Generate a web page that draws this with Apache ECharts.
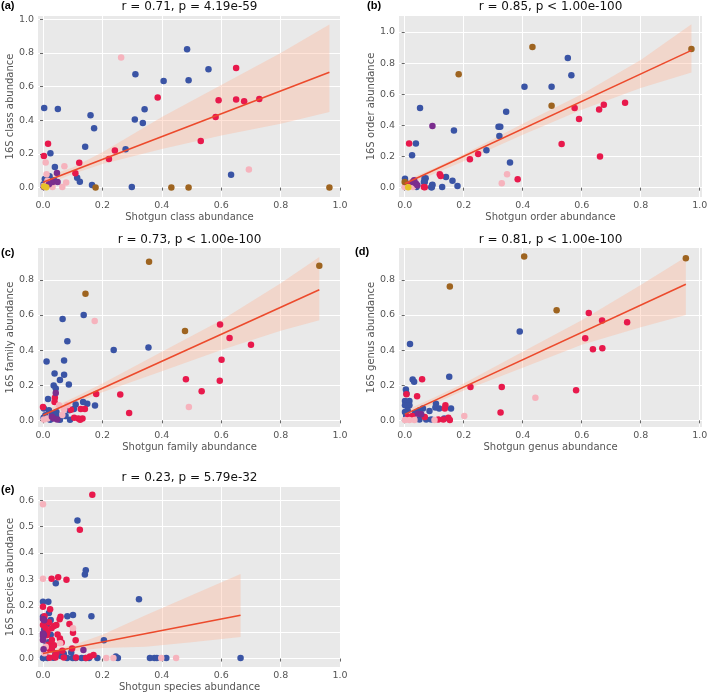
<!DOCTYPE html>
<html>
<head>
<meta charset="utf-8">
<script src="https://cdn.jsdelivr.net/npm/echarts@6/dist/echarts.min.js"></script>
<style>html,body{margin:0;padding:0;background:#fff}#c{width:709px;height:694px}</style>
</head>
<body>
<div id="c"></div>
<script>
// ---------- Panel (a): class ----------
const A_title = 'r = 0.71, p = 4.19e-59';
const A_xname = 'Shotgun class abundance';
const A_yname = '16S class abundance';
const A_blue = [[0.485,0.822],[0.557,0.703],[0.311,0.673],[0.406,0.634],[0.490,0.638],[0.004,0.473],[0.050,0.467],[0.342,0.465],[0.160,0.430],[0.172,0.352],[0.309,0.404],[0.336,0.384],[0.142,0.242],[0.278,0.228],[0.025,0.204],[0.040,0.123],[0.633,0.077],[0.115,0.059],[0.022,0.067],[0.124,0.034],[0.165,0.016],[0.299,0.004],[0.006,0.051],[0.020,0.047],[0.014,0.030],[0.028,0.040],[0.037,0.044],[0.002,0.020],[0.010,0.012]];
const A_red = [[0.650,0.711],[0.386,0.535],[0.591,0.519],[0.650,0.523],[0.677,0.513],[0.728,0.527],[0.581,0.420],[0.531,0.277],[0.017,0.261],[0.003,0.188],[0.242,0.220],[0.222,0.170],[0.122,0.147],[0.109,0.085],[0.022,0.033],[0.030,0.025]];
const A_pink = [[0.263,0.774],[0.693,0.107],[0.009,0.149],[0.072,0.127],[0.012,0.079],[0.078,0.030],[0.065,0.004],[0.032,0.004],[0.015,0.040],[0.002,0.010]];
const A_purple = [[0.047,0.087],[0.032,0.033],[0.049,0.033],[0.003,0.004],[0.020,0.020]];
const A_brown = [[0.177,0.0],[0.432,0.0],[0.490,0.0],[0.964,0.0]];
const A_yellow = [[0.011,0.002],[0.004,0.006]];
const A_fit = [[0,0.032],[0.964,0.686]];
const A_bandX = [0,0.1,0.2,0.4,0.6,0.8,0.964];
const A_bandLo = [0.01,0.08,0.14,0.23,0.31,0.38,0.45];
const A_bandHi = [0.06,0.12,0.21,0.42,0.61,0.80,0.97];
const A_xticks = [0,0.2,0.4,0.6,0.8,1.0];
const A_yticks = [0,0.2,0.4,0.6,0.8,1.0];

// ---------- Panel (b): order ----------
const B_title = 'r = 0.85, p < 1.00e-100';
const B_xname = 'Shotgun order abundance';
const B_yname = '16S order abundance';
const B_blue = [[0.553,0.833],[0.565,0.722],[0.406,0.649],[0.498,0.649],[0.052,0.512],[0.344,0.488],[0.167,0.368],[0.318,0.392],[0.324,0.392],[0.321,0.332],[0.038,0.283],[0.277,0.240],[0.025,0.208],[0.357,0.161],[0.140,0.069],[0.162,0.045],[0.179,0.011],[0.127,0.004],[0.094,0.019],[0.090,0.002],[0.071,0.060],[0.068,0.036],[0.001,0.058],[0.002,0.037],[0.005,0.026],[0.067,0.058],[0.065,0.037],[0.040,0.004],[0.093,0.015],[0.092,0.002]];
const B_red = [[0.747,0.546],[0.675,0.533],[0.659,0.503],[0.576,0.512],[0.591,0.441],[0.015,0.283],[0.532,0.281],[0.249,0.216],[0.662,0.201],[0.221,0.182],[0.119,0.086],[0.122,0.075],[0.383,0.054],[0.068,0.002],[0.065,0.004],[0.021,0.015],[0.030,0.037]];
const B_pink = [[0.347,0.086],[0.329,0.028],[0.009,0.004],[0.000,0.004],[0.028,0.004]];
const B_purple = [[0.094,0.396],[0.027,0.036],[0.038,0.026],[0.032,0.047],[0.043,0.015]];
const B_brown = [[0.433,0.904],[0.972,0.891],[0.183,0.728],[0.498,0.527],[0.000,0.037]];
const B_yellow = [[0.012,0.002]];
const B_fit = [[0,0.025],[0.972,0.882]];
const B_bandX = [0,0.1,0.2,0.4,0.6,0.8,0.972];
const B_bandLo = [0.005,0.09,0.17,0.34,0.50,0.64,0.74];
const B_bandHi = [0.045,0.125,0.215,0.41,0.60,0.82,1.05];
const B_xticks = [0,0.2,0.4,0.6,0.8,1.0];
const B_yticks = [0,0.2,0.4,0.6,0.8,1.0];

// ---------- Panel (c): family ----------
const C_title = 'r = 0.73, p < 1.00e-100';
const C_xname = 'Shotgun family abundance';
const C_yname = '16S family abundance';
const C_blue = [[0.137,0.600],[0.066,0.577],[0.082,0.450],[0.238,0.400],[0.355,0.415],[0.071,0.341],[0.012,0.335],[0.039,0.267],[0.071,0.259],[0.057,0.229],[0.087,0.204],[0.036,0.198],[0.043,0.181],[0.017,0.122],[0.175,0.084],[0.149,0.095],[0.135,0.105],[0.110,0.090],[0.104,0.065],[0.088,0.057],[0.091,0.003],[0.057,0.003],[0.024,0.003],[0.020,0.057],[0.003,0.067],[0.008,0.029],[0.031,0.038],[0.045,0.048],[0.076,0.025],[0.050,0.020],[0.002,0.015]];
const C_red = [[0.596,0.545],[0.628,0.469],[0.700,0.430],[0.601,0.345],[0.481,0.234],[0.595,0.225],[0.534,0.166],[0.260,0.147],[0.179,0.150],[0.290,0.042],[0.040,0.128],[0.039,0.105],[0.000,0.076],[0.141,0.065],[0.127,0.065],[0.094,0.060],[0.119,0.010],[0.133,0.010],[0.125,0.003],[0.105,0.015]];
const C_pink = [[0.174,0.566],[0.491,0.076],[0.071,0.061],[0.082,0.086],[0.054,0.086],[0.003,0.004],[0.015,0.010],[0.065,0.030]];
const C_purple = [[0.043,0.156],[0.036,0.010],[0.048,0.004],[0.030,0.020]];
const C_brown = [[0.357,0.903],[0.930,0.880],[0.143,0.720],[0.478,0.509]];
const C_fit = [[0,0.029],[0.930,0.743]];
const C_bandX = [0,0.1,0.2,0.4,0.6,0.8,0.930];
const C_bandLo = [0.01,0.09,0.16,0.28,0.40,0.51,0.57];
const C_bandHi = [0.05,0.125,0.21,0.39,0.57,0.78,0.93];
const C_xticks = [0,0.2,0.4,0.6,0.8,1.0];
const C_yticks = [0,0.2,0.4,0.6,0.8];

// ---------- Panel (d): genus ----------
const D_title = 'r = 0.81, p < 1.00e-100';
const D_xname = 'Shotgun genus abundance';
const D_yname = '16S genus abundance';
const D_blue = [[0.390,0.505],[0.018,0.434],[0.151,0.248],[0.027,0.232],[0.032,0.219],[0.004,0.175],[0.006,0.152],[0.001,0.110],[0.016,0.110],[0.001,0.086],[0.016,0.086],[0.010,0.057],[0.001,0.048],[0.106,0.095],[0.104,0.073],[0.117,0.067],[0.157,0.067],[0.084,0.053],[0.062,0.067],[0.051,0.057],[0.043,0.048],[0.035,0.042],[0.073,0.004],[0.090,0.004],[0.050,0.004],[0.134,0.011],[0.005,0.025],[0.020,0.012]];
const D_red = [[0.624,0.611],[0.669,0.568],[0.754,0.558],[0.612,0.467],[0.638,0.404],[0.670,0.410],[0.059,0.234],[0.223,0.190],[0.329,0.190],[0.581,0.171],[0.006,0.149],[0.042,0.137],[0.325,0.044],[0.138,0.086],[0.136,0.067],[0.026,0.024],[0.068,0.019],[0.114,0.004],[0.131,0.004],[0.148,0.015],[0.153,0.002],[0.012,0.020]];
const D_pink = [[0.443,0.128],[0.202,0.025],[0.001,0.002],[0.016,0.002],[0.033,0.002],[0.101,0.002]];
const D_purple = [[0.045,0.038],[0.056,0.034]];
const D_brown = [[0.405,0.933],[0.953,0.922],[0.153,0.762],[0.515,0.627]];
const D_fit = [[0,0.034],[0.953,0.775]];
const D_bandX = [0,0.1,0.2,0.4,0.6,0.8,0.953];
const D_bandLo = [0.015,0.095,0.17,0.30,0.43,0.53,0.60];
const D_bandHi = [0.055,0.13,0.21,0.39,0.57,0.77,0.93];
const D_xticks = [0,0.2,0.4,0.6,0.8,1.0];
const D_yticks = [0,0.2,0.4,0.6,0.8];

// ---------- Panel (e): species ----------
const E_title = 'r = 0.23, p = 5.79e-32';
const E_xname = 'Shotgun species abundance';
const E_yname = '16S species abundance';
const E_blue = [[0.116,0.523],[0.144,0.335],[0.141,0.318],[0.043,0.285],[0.323,0.225],[0.000,0.215],[0.018,0.215],[0.082,0.160],[0.101,0.165],[0.163,0.160],[0.205,0.069],[0.000,0.158],[0.004,0.145],[0.020,0.173],[0.009,0.097],[0.026,0.090],[0.020,0.062],[0.095,0.023],[0.665,0.002],[0.000,0.002],[0.015,0.002],[0.042,0.020],[0.053,0.020],[0.070,0.018],[0.081,0.002],[0.143,0.002],[0.155,0.002],[0.183,0.002],[0.245,0.008],[0.252,0.002],[0.360,0.002],[0.375,0.002],[0.383,0.002],[0.415,0.002],[0.004,0.110],[0.012,0.060],[0.030,0.040],[0.060,0.010],[0.100,0.002],[0.008,0.010],[0.035,0.003],[0.110,0.002],[0.130,0.002],[0.026,0.146],[0.014,0.130]];
const E_red = [[0.166,0.621],[0.124,0.488],[0.051,0.308],[0.029,0.302],[0.079,0.299],[0.000,0.196],[0.024,0.187],[0.056,0.149],[0.059,0.158],[0.089,0.131],[0.101,0.098],[0.110,0.069],[0.098,0.038],[0.000,0.127],[0.009,0.115],[0.020,0.138],[0.029,0.115],[0.037,0.123],[0.045,0.127],[0.049,0.091],[0.057,0.076],[0.012,0.088],[0.018,0.052],[0.029,0.035],[0.037,0.050],[0.063,0.061],[0.042,0.004],[0.111,0.004],[0.158,0.008],[0.170,0.013],[0.005,0.160],[0.015,0.100],[0.030,0.070],[0.045,0.020],[0.070,0.004],[0.010,0.030],[0.065,0.030],[0.022,0.003],[0.145,0.002],[0.040,0.010]];
const E_pink = [[0.000,0.585],[0.000,0.302],[0.101,0.115],[0.058,0.058],[0.213,0.002],[0.237,0.002],[0.398,0.002],[0.448,0.002],[0.009,0.045],[0.000,0.070],[0.005,0.020]];
const E_purple = [[0.000,0.150],[0.000,0.095],[0.000,0.085],[0.000,0.070],[0.002,0.035],[0.136,0.032],[0.004,0.145],[0.003,0.090]];
const E_fit = [[0,0.019],[0.665,0.164]];
const E_bandX = [0,0.1,0.2,0.345,0.5,0.665];
const E_bandLo = [0.012,0.028,0.04,0.045,0.062,0.082];
const E_bandHi = [0.028,0.05,0.09,0.164,0.24,0.32];
const E_xticks = [0,0.2,0.4,0.6,0.8,1.0];
const E_yticks = [0,0.1,0.2,0.3,0.4,0.5,0.6];

// ---------- colours ----------
const COL = {blue:'#3a54a5', red:'#e8194c', pink:'#f6b3bd', purple:'#7b2d8e', brown:'#9e6420', yellow:'#e6c229'};
const FIT = '#ec4a2c';
const BAND = 'rgba(255,180,150,0.36)';

const panels = [
  {label:'(a)', title:A_title, xname:A_xname, yname:A_yname, groups:{blue:A_blue, red:A_red, pink:A_pink, purple:A_purple, brown:A_brown, yellow:A_yellow}, fit:A_fit, bx:A_bandX, lo:A_bandLo, hi:A_bandHi, xt:A_xticks, yt:A_yticks,
   grid:{left:38, top:16, width:303, height:181}, xr:[-0.0168,1.003], yr:[-0.056,1.02], tpos:[189.5,7], lpos:[1,6]},
  {label:'(b)', title:B_title, xname:B_xname, yname:B_yname, groups:{blue:B_blue, red:B_red, pink:B_pink, purple:B_purple, brown:B_brown, yellow:B_yellow}, fit:B_fit, bx:B_bandX, lo:B_bandLo, hi:B_bandHi, xt:B_xticks, yt:B_yticks,
   grid:{left:399, top:16, width:303, height:181}, xr:[-0.0193,1.0078], yr:[-0.060,1.103], tpos:[550.5,7], lpos:[367,6]},
  {label:'(c)', title:C_title, xname:C_xname, yname:C_yname, groups:{blue:C_blue, red:C_red, pink:C_pink, purple:C_purple, brown:C_brown}, fit:C_fit, bx:C_bandX, lo:C_bandLo, hi:C_bandHi, xt:C_xticks, yt:C_yticks,
   grid:{left:38, top:248, width:303, height:179}, xr:[-0.0168,1.003], yr:[-0.038,0.981], tpos:[189.5,240], lpos:[1,253]},
  {label:'(d)', title:D_title, xname:D_xname, yname:D_yname, groups:{blue:D_blue, red:D_red, pink:D_pink, purple:D_purple, brown:D_brown}, fit:D_fit, bx:D_bandX, lo:D_bandLo, hi:D_bandHi, xt:D_xticks, yt:D_yticks,
   grid:{left:399, top:248, width:303, height:179}, xr:[-0.0193,1.0078], yr:[-0.038,0.981], tpos:[550.5,240], lpos:[355,252]},
  {label:'(e)', title:E_title, xname:E_xname, yname:E_yname, groups:{blue:E_blue, red:E_red, pink:E_pink, purple:E_purple}, fit:E_fit, bx:E_bandX, lo:E_bandLo, hi:E_bandHi, xt:E_xticks, yt:E_yticks,
   grid:{left:38, top:487, width:303, height:180}, xr:[-0.0168,1.003], yr:[-0.032,0.650], tpos:[189.5,478], lpos:[1,490]}
];

const FONT = 'DejaVu Sans';
const grid = [], xAxis = [], yAxis = [], series = [], graphic = [];
const fmt = v => v.toFixed(1);

panels.forEach((p, i) => {
  grid.push(Object.assign({show:true, backgroundColor:'#e9e9e9', borderWidth:0, containLabel:false, outerBoundsMode:'none'}, p.grid));
  const axisCommon = (ticks) => ({
    type:'value', gridIndex:i,
    axisLine:{show:false},
    axisTick:{show:true, length:3, lineStyle:{color:'#666', width:1}, customValues:ticks},
    axisLabel:{customValues:ticks, formatter:fmt, color:'#555', fontSize:9.5, fontFamily:FONT, margin:4},
    splitLine:{show:true, lineStyle:{color:'#ffffff', width:1}},
    nameLocation:'middle',
    nameTextStyle:{color:'#555', fontSize:10, fontFamily:FONT}
  });
  xAxis.push(Object.assign(axisCommon(p.xt), {min:p.xr[0], max:p.xr[1], name:p.xname, nameGap:15}));
  yAxis.push(Object.assign(axisCommon(p.yt), {min:p.yr[0], max:p.yr[1], name:p.yname, nameGap:21}));
  // confidence band (under the points): polygon through upper edge then back along lower edge
  const bandData = p.bx.map((x,j)=>[x, p.lo[j], p.hi[j]]);
  series.push({type:'custom', xAxisIndex:i, yAxisIndex:i, data:bandData, silent:true, z:1,
    encode:{x:0, y:[1,2]},
    renderItem:(params, api) => {
      if (params.dataIndex !== 0) return null;
      const up = bandData.map(d => api.coord([d[0], d[2]]));
      const dn = bandData.map(d => api.coord([d[0], d[1]])).reverse();
      const cs = params.coordSys;
      return {type:'polygon', shape:{points: up.concat(dn)},
        style:{fill:BAND, stroke:null},
        clipPath:{type:'rect', shape:{x:cs.x, y:cs.y, width:cs.width, height:cs.height}}};
    }});
  Object.keys(p.groups).forEach(k => {
    series.push({type:'scatter', xAxisIndex:i, yAxisIndex:i, data:p.groups[k], symbolSize:6.5,
      itemStyle:{color:COL[k], opacity:1}, silent:true, z:2});
  });
  series.push({type:'line', xAxisIndex:i, yAxisIndex:i, symbol:'none', data:p.fit,
    lineStyle:{color:FIT, width:1.6}, silent:true, z:4});
  graphic.push({type:'text', x:p.tpos[0], y:p.tpos[1], style:{text:p.title, fill:'#111', font:'12px "DejaVu Sans"', align:'center', verticalAlign:'middle'}});
  graphic.push({type:'text', x:p.lpos[0], y:p.lpos[1], style:{text:p.label, fill:'#000', font:'bold 11px "Liberation Sans"', align:'left', verticalAlign:'middle'}});
});

const chart = echarts.init(document.getElementById('c'), null, {renderer:'canvas'});
chart.setOption({animation:false, backgroundColor:'#fff', grid, xAxis, yAxis, series, graphic});
</script>
</body>
</html>
